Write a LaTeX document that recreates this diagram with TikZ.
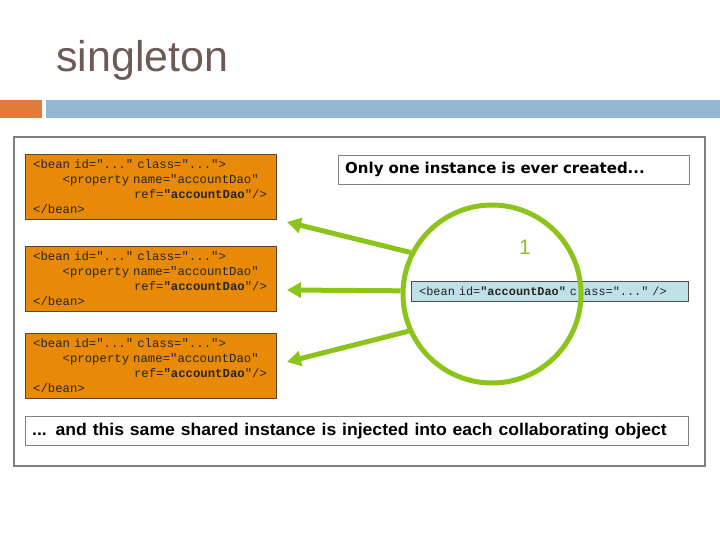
\documentclass[tikz,border=0pt]{standalone}
\usepackage{fontspec}
\setmainfont{Liberation Sans}
\newfontfamily\codefont{Liberation Mono}
\newfontfamily\notefont{DejaVu Sans}
\usetikzlibrary{arrows.meta}

\definecolor{titlegray}{HTML}{6E5A55}
\definecolor{barorange}{HTML}{E07B39}
\definecolor{barblue}{HTML}{93B6D2}
\definecolor{beanorange}{HTML}{E88A08}
\definecolor{beanedge}{HTML}{5A4630}
\definecolor{ringgreen}{HTML}{8CC41C}
\definecolor{refblue}{HTML}{BEE0E6}
\definecolor{framegray}{HTML}{7F7F7F}

\newcommand\beantext{%
<bean id="..." class="...">\\
\hspace*{2.4em}<property name="accountDao"\\
\hspace*{8.2em}ref=\textbf{"accountDao}"/>\\
</bean>}

\begin{document}
\begin{tikzpicture}[x=1pt, y=-1pt,
    beanbox/.style={draw=beanedge, thin, fill=beanorange, anchor=north west,
        text width=235pt, minimum height=65pt, inner xsep=8pt, inner ysep=0pt,
        align=left, text=black!85,
        font=\codefont\fontsize{12.3}{15.2}\selectfont},
    notebox/.style={draw=framegray, fill=white, anchor=north west,
        minimum height=29pt, inner xsep=7pt, inner ysep=0pt, align=left},
    wire/.style={ringgreen, line width=5pt,
        -{Triangle[length=14pt, width=15pt]}}]

    \useasboundingbox (0,0) rectangle (720,540);

    % title and header bars
    \node[anchor=base west, inner sep=0pt, text=titlegray,
        font=\fontsize{43}{50}\selectfont] (title) at (56,72) {singleton};
    \fill[barorange] (0,100) rectangle (42,118);
    \fill[barblue] (46,100) rectangle (720,118);

    % outer frame
    \draw[framegray, line width=2pt, fill=white] (14,137) rectangle (705,466);

    % the three collaborating beans
    \node[beanbox] (bean1) at (25,154) {\beantext};
    \node[beanbox] (bean2) at (25,246) {\beantext};
    \node[beanbox] (bean3) at (25,333) {\beantext};

    % notes
    \node[notebox, text width=337pt,
        font=\notefont\bfseries\fontsize{15}{18}\selectfont]
        (once) at (338,155) {Only one instance is ever created...};
    \node[notebox, text width=649pt,
        font=\bfseries\fontsize{17}{20}\selectfont] (shared) at (25,416)
        {\scalebox{1.035}[1]{... and this same shared instance is injected into each collaborating object}};

    % the shared bean
    \node[draw=black!70, fill=refblue, anchor=north west, text width=261pt,
        minimum height=20pt, inner xsep=8pt, inner ysep=0pt, align=left,
        text=black!85, font=\codefont\fontsize{11.9}{14}\selectfont]
        (dao) at (411,281) {<bean id=\textbf{"accountDao"} class="..." />};

    \node[draw=ringgreen, line width=5pt, circle, minimum size=178pt,
        inner sep=0pt] (ring) at (492,294) {};
    \node[text=ringgreen, font=\fontsize{21}{24}\selectfont] (count)
        at (525,247) {1};

    % injection arrows
    \coordinate (tip1) at (287,222);
    \coordinate (tip2) at (287,290);
    \coordinate (tip3) at (287,362);
    \draw[wire] (ring.153) -- (tip1);
    \draw[wire] (ring.178) -- (tip2);
    \draw[wire] (ring.204) -- (tip3);
\end{tikzpicture}
\end{document}
